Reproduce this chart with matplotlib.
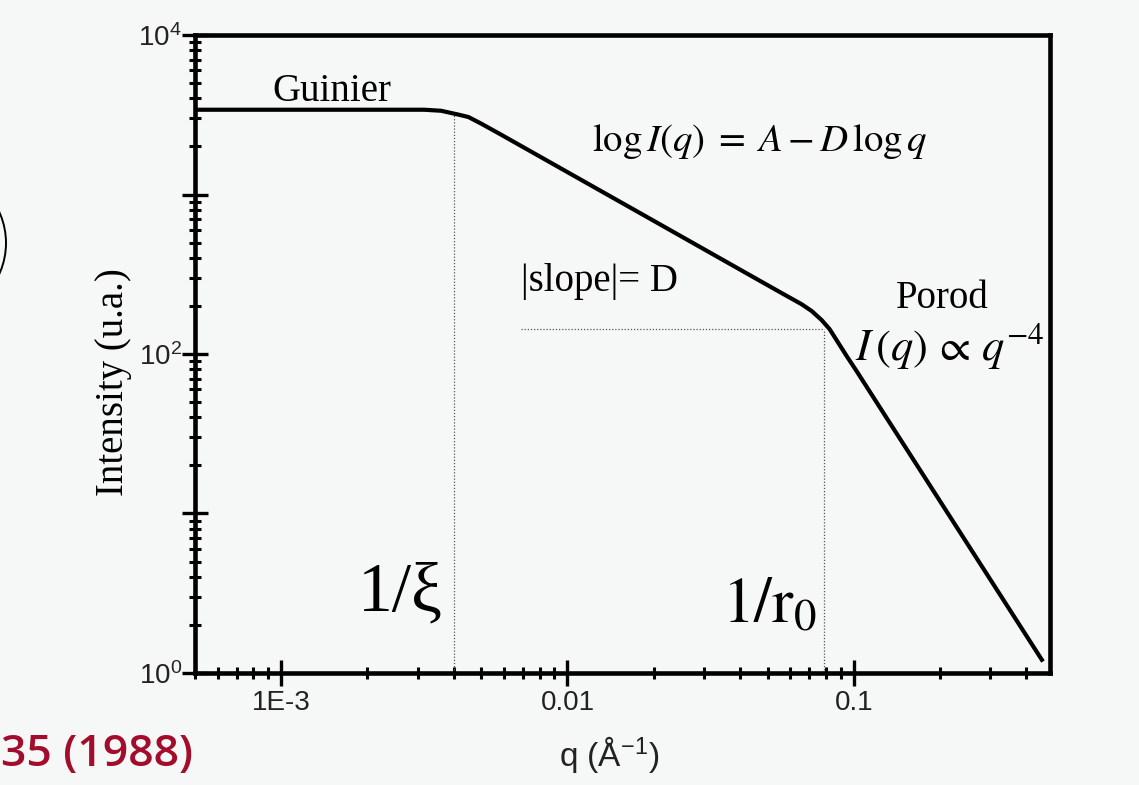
import math
import matplotlib
matplotlib.use('Agg')
import matplotlib.pyplot as plt
import matplotlib.ticker as mticker
from matplotlib.patches import Circle
from matplotlib.transforms import IdentityTransform

# scattering curve I(q): Guinier plateau, power-law region, Porod tail
q_vals = [5e-4, 0.00316, 0.00362, 0.00419, 0.00451, 0.0050, 0.00587, 0.0197, 0.0476, 0.056,
          0.0658, 0.0713, 0.0773, 0.0824, 0.0945, 0.1024, 0.120, 0.454]
intensity_vals = [3400, 3400, 3350, 3160, 3060, 2780, 2370, 695, 284, 241,
                  205, 186, 163, 143, 97, 78, 50, 1.21]

# crossover positions (1/xi and 1/r0) and the level of the second knee
q_xi = 0.004
I_xi = 3200
q_r0 = 0.0786
I_r0 = 143
q_slope_start = 0.0069

x_major_ticks = [1e-3, 1e-2, 1e-1]
x_major_labels = ['1E-3', '0.01', '0.1']
y_labelled = [1, 100, 10000]

bg = '#f5f8f6'
plt.rcParams['mathtext.fontset'] = 'stix'
plt.rcParams['font.family'] = ['Liberation Sans', 'DejaVu Sans']

fig = plt.figure(figsize=(11.39, 7.85), dpi=100, facecolor=bg)
ax = fig.add_axes([0.1712, 0.1427, 0.9219 - 0.1712, 0.9554 - 0.1427], facecolor=bg)

ax.plot(q_vals, intensity_vals, color='black', lw=3.0, solid_joinstyle='round', zorder=3)

# dotted guides at the two crossovers
guide = dict(color='#555555', lw=0.9, ls=(0, (1, 1.5)), zorder=2)
ax.plot([q_xi, q_xi], [1, I_xi], **guide)
ax.plot([q_slope_start, q_r0], [I_r0, I_r0], **guide)
ax.plot([q_r0, q_r0], [1, I_r0], **guide)

ax.set_xscale('log')
ax.set_yscale('log')
ax.set_xlim(5e-4, 0.485)
ax.set_ylim(1, 1e4)

for side in ['left', 'bottom', 'right', 'top']:
    ax.spines[side].set_linewidth(3.3)

ax.xaxis.set_major_locator(mticker.FixedLocator(x_major_ticks))
ax.xaxis.set_major_formatter(mticker.FixedFormatter(x_major_labels))
ax.xaxis.set_minor_locator(mticker.LogLocator(base=10, subs=range(2, 10), numticks=20))
ax.xaxis.set_minor_formatter(mticker.NullFormatter())


def decade_label(v, pos):
    if v in y_labelled:
        return r'$\mathregular{10^{%d}}$' % round(math.log10(v))
    return ''


ax.yaxis.set_major_locator(mticker.LogLocator(base=10, numticks=10))
ax.yaxis.set_major_formatter(mticker.FuncFormatter(decade_label))
ax.yaxis.set_minor_locator(mticker.LogLocator(base=10, subs=range(2, 10), numticks=20))
ax.yaxis.set_minor_formatter(mticker.NullFormatter())

ax.tick_params(which='major', direction='inout', length=19, width=2.4, labelsize=20, pad=3,
               top=False, right=False, labelcolor='#222222')
ax.tick_params(which='minor', direction='inout', length=9, width=2.2, top=False, right=False)
ax.tick_params(axis='y', which='major', pad=0)

ax.set_xlabel(r'q (Å$^{\mathregular{-1}}$)', fontsize=24, color='#222222')
ax.xaxis.set_label_coords(0.485, -0.095)
ax.set_ylabel('Intensity (u.a.)', fontsize=28, family='Liberation Serif')
ax.yaxis.set_label_coords(-0.074, 0.456)

serif = 'Liberation Serif'
ax.text(0.0015, 3870, 'Guinier', fontsize=28, family=serif, ha='center', va='baseline')
ax.text(0.0469, 2145, r'$\log I(q)\; =\; A - D\,\log q$', fontsize=28, ha='center', va='center')
ax.text(0.01294, 286, '|slope|= D', fontsize=28, family=serif, ha='center', va='center')
ax.text(0.203, 224, 'Porod', fontsize=28, family=serif, ha='center', va='center')
ax.text(0.217, 112, r'$I\,(q)\, \propto\, q^{-4}$', fontsize=32, ha='center', va='center')
ax.text(0.0026, 3.15, '1/ξ', fontsize=50, family=serif, ha='center', va='center')
ax.text(0.0508, 2.66, r'$\mathrm{1/r}_{\mathrm{0}}$', fontsize=46, ha='center', va='center')

# slide leftovers at the left edge
fig.add_artist(Circle((-69, 785 - 243), 75, transform=IdentityTransform(),
                      fill=False, edgecolor='black', lw=1.4))
fig.text(0.001, 0.039, '35 (1988)', fontsize=32, color='#a30d2d', family='Open Sans',
         fontweight='semibold', ha='left', va='center')

fig.savefig('out.png', dpi=100, facecolor=bg)
